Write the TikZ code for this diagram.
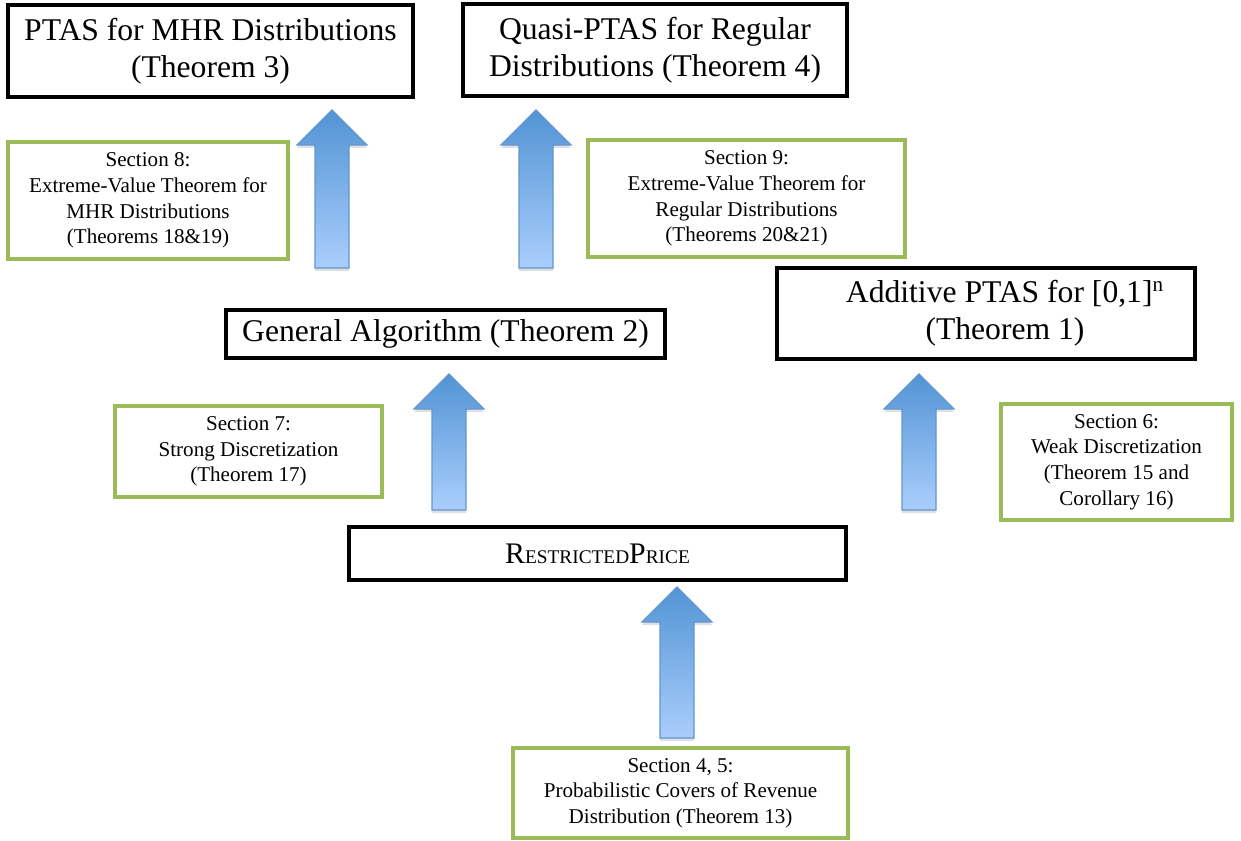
\documentclass[tikz,border=0pt]{standalone}
\usepackage{fontspec}
\setmainfont{Liberation Serif}
\usetikzlibrary{calc,shadows}

\definecolor{secgreen}{RGB}{155,187,89}
\definecolor{arrowtop}{RGB}{82,148,212}
\definecolor{arrowbot}{RGB}{170,206,252}
\definecolor{arrowedge}{RGB}{98,150,210}

% block arrow from tail coordinate up to tip coordinate
\newcommand{\blockarrow}[2]{%
  \shade[arrowbody] ($(#1)+(-17,0)$) -- ($(#2)+(-17,35)$) -- ($(#2)+(-35,35)$) -- (#2)
    -- ($(#2)+(35,35)$) -- ($(#2)+(17,35)$) -- ($(#1)+(17,0)$) -- cycle;}

\newcommand{\fakesc}[2]{{\fontsize{17}{21}\selectfont #1}{\fontsize{11}{21}\selectfont #2}}

\begin{document}
\begin{tikzpicture}[x=0.02cm,y=-0.02cm]
 \tikzstyle{result} = [draw=black,line width=2.2pt,fill=white,align=center,inner sep=0pt,
                       font=\fontsize{18}{21}\selectfont,
                       drop shadow={shadow xshift=0.8pt,shadow yshift=-1.2pt,opacity=0.3}];
 \tikzstyle{section} = [draw=secgreen,line width=1.9pt,fill=white,align=center,inner sep=0pt,
                        font=\fontsize{12}{14.6}\selectfont,
                        drop shadow={shadow xshift=0.6pt,shadow yshift=-0.9pt,opacity=0.15}];
 \tikzstyle{arrowbody} = [draw=arrowedge,line width=0.7pt,top color=arrowtop,bottom color=arrowbot,
                          drop shadow={shadow xshift=0pt,shadow yshift=-1.6pt,opacity=0.25}];

 \useasboundingbox (0,0) rectangle (1241,840);

 % results
 \node[result,name=mhr,minimum width=8.1cm,minimum height=1.84cm] at (210.5,51)
   {PTAS for MHR Distributions\\(Theorem 3)};
 \node[result,name=quasi,minimum width=7.68cm,minimum height=1.84cm] at (655,50)
   {Quasi-PTAS for Regular\\Distributions (Theorem 4)};
 \node[result,name=gen,minimum width=8.78cm,minimum height=0.96cm] at (445.5,334)
   {General Algorithm (Theorem 2)};
 \node[result,name=add,minimum width=8.36cm,minimum height=1.82cm] at (986,313.5)
   {\hspace*{1.2em}Additive PTAS for [0,1]\textsuperscript{\fontsize{12}{12}\selectfont n}\\\hspace*{1.2em}(Theorem 1)};
 \node[result,name=rp,minimum width=9.94cm,minimum height=1.06cm] at (597.5,553.5)
   {\fakesc{R}{ESTRICTED}\fakesc{P}{RICE}};

 % sections
 \node[section,name=sec8,minimum width=5.6cm,minimum height=2.34cm] at (148,200.5)
   {Section 8:\\Extreme-Value Theorem for\\MHR Distributions\\(Theorems 18\&19)};
 \node[section,name=sec9,minimum width=6.34cm,minimum height=2.34cm] at (746.5,198.5)
   {Section 9:\\Extreme-Value Theorem for\\Regular Distributions\\(Theorems 20\&21)};
 \node[section,name=sec7,minimum width=5.34cm,minimum height=1.82cm] at (248.5,451.5)
   {Section 7:\\Strong Discretization\\(Theorem 17)};
 \node[section,name=sec6,minimum width=4.62cm,minimum height=2.32cm] at (1116.5,462)
   {Section 6:\\Weak Discretization\\(Theorem 15 and\\Corollary 16)};
 \node[section,name=sec45,minimum width=6.7cm,minimum height=1.8cm] at (680.5,793)
   {Section 4, 5:\\Probabilistic Covers of Revenue\\Distribution (Theorem 13)};

 % arrows
 \coordinate (mhrtail) at (332,268);   \coordinate (mhrtip) at (332,110);
 \coordinate (quasitail) at (536,268); \coordinate (quasitip) at (536,110);
 \coordinate (gentail) at (449,510);   \coordinate (gentip) at (449,374);
 \coordinate (addtail) at (919,510);   \coordinate (addtip) at (919,374);
 \coordinate (rptail) at (677,738);    \coordinate (rptip) at (677,587);
 \blockarrow{mhrtail}{mhrtip}
 \blockarrow{quasitail}{quasitip}
 \blockarrow{gentail}{gentip}
 \blockarrow{addtail}{addtip}
 \blockarrow{rptail}{rptip}
\end{tikzpicture}
\end{document}
